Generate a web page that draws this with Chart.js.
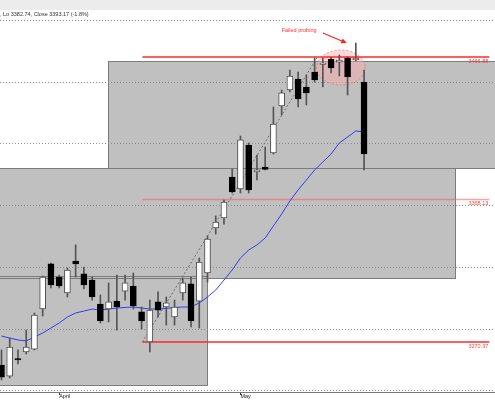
<!DOCTYPE html>
<html>
<head>
<meta charset="utf-8">
<script src="https://cdn.jsdelivr.net/npm/chart.js@4.4.1/dist/chart.umd.min.js"></script>
<style>
    html, body { margin: 0; padding: 0; background: #fff; }
    #toolbar { height: 10px; background: #ececec; }
    #wrap { position: relative; width: 495px; height: 390px; }
</style>
</head>
<body>
<div id="toolbar"></div>
<div id="wrap"><canvas id="mycanvas"></canvas></div>
<script>
var header = ', Lo 3382.74, Close 3393.17 (-1.8%)';

// daily candles
var opens = [3254.5, 3246.9, 3259.0, 3263.5, 3265.5, 3293.1, 3324.2, 3315.2, 3304.2, 3326.2,
             3317.3, 3313.1, 3296.6, 3293.1, 3298.6, 3305.5, 3309.0, 3291.1, 3270.4, 3298.0,
             3294.5, 3287.6, 3304.2, 3310.4, 3298.6, 3318.0, 3349.0, 3355.9, 3384.1, 3375.9,
             3406.2, 3387.6, 3391.0, 3400.7, 3433.1, 3444.1, 3451.7, 3446.2, 3456.5, 3461.7,
             3465.5, 3463.4, 3466.2, 3464.8, 3449.6];
var highs = [3264.9, 3273.1, 3264.9, 3278.6, 3290.4, 3315.9, 3324.8, 3316.6, 3321.4, 3337.3,
             3322.1, 3315.2, 3302.8, 3311.1, 3316.6, 3316.6, 3318.0, 3294.5, 3299.3, 3304.9,
             3301.4, 3299.3, 3314.5, 3315.2, 3328.3, 3343.5, 3357.3, 3368.3, 3389.7, 3412.4,
             3407.6, 3399.3, 3404.8, 3432.4, 3444.1, 3457.9, 3456.5, 3454.5, 3466.2, 3466.2,
             3466.9, 3468.3, 3466.9, 3476.5, 3457.9];
var lows = [3244.2, 3245.6, 3255.2, 3262.1, 3264.9, 3288.3, 3307.6, 3307.6, 3301.4, 3315.2,
            3306.9, 3299.3, 3283.5, 3284.2, 3278.6, 3299.3, 3293.1, 3279.3, 3263.5, 3287.6,
            3282.1, 3282.1, 3299.3, 3280.7, 3280.0, 3311.7, 3344.8, 3351.7, 3373.1, 3373.1,
            3373.1, 3382.1, 3389.0, 3400.0, 3426.9, 3442.8, 3432.4, 3433.8, 3449.6, 3446.2,
            3455.9, 3453.8, 3440.7, 3464.1, 3389.0];
var closes = [3246.2, 3266.9, 3258.0, 3266.9, 3289.0, 3315.2, 3309.7, 3309.0, 3320.0, 3324.2,
              3309.7, 3301.4, 3284.9, 3298.0, 3294.5, 3311.1, 3295.2, 3284.9, 3292.4, 3292.4,
              3297.3, 3294.5, 3311.1, 3284.9, 3325.5, 3341.4, 3353.1, 3366.9, 3373.8, 3409.7,
              3375.2, 3389.0, 3389.3, 3420.7, 3442.1, 3453.8, 3437.9, 3442.1, 3451.0, 3462.7,
              3459.3, 3464.8, 3453.1, 3466.2, 3400.0];
var ma = [3274.5, 3273.1, 3271.8, 3271.1, 3273.8, 3276.6, 3280.0, 3283.5, 3287.6, 3290.4,
          3291.7, 3293.1, 3292.4, 3293.1, 3293.8, 3294.2, 3294.5, 3293.8, 3293.1, 3293.1,
          3293.5, 3294.2, 3294.5, 3294.5, 3297.3, 3301.4, 3306.2, 3313.1, 3320.0, 3328.3,
          3333.8, 3337.3, 3342.1, 3350.4, 3358.6, 3367.6, 3375.2, 3382.1, 3389.0, 3394.5,
          3400.0, 3407.6, 3411.7, 3415.9, 3415.2];

var monthTicks = [7, 29];
var monthLabels = ['April', 'May'];
var gridPrices = [3492.39, 3449.64, 3407.58, 3364.83, 3322.08, 3279.33, 3237.27];

// horizontal levels
var levelPrices = [3466.88, 3368.63, 3270.37];
var levelLabels = ['3466.88', '3368.13', '3270.37'];
var levelFrom = 17.1, levelTo = 59.2;

// dotted trend line
var trendFrom = [17.1, 3270.37];
var trendTo = [38.3, 3466.5];

// gray zones: [fromBar, toBar, topPrice, bottomPrice]
var zones = [
    [12.92, 61, 3464.12, 3390.34],
    [-1, 55.04, 3390.34, 3314.5],
    [-1, 24.94, 3315.88, 3240.72]
];

var calloutText = 'Failed probing';
var calloutAt = [34.0, 3485.1];
var arrowFrom = [39.0, 3483.4];
var arrowTo = [41.9, 3476.5];
var probeCenter = [41.18, 3459.64];
var probeRadius = [2.94, 12.07];

var font = "'Liberation Sans', Arial, sans-serif";

var bodies = [], wicks = [], maPts = [], up = [];
for (var i in opens) {
    var n = Number(i);
    up.push(closes[n] >= opens[n]);
    bodies.push({ x: n, y: [opens[n], closes[n]] });
    wicks.push({ x: n, y: [lows[n], highs[n]] });
    maPts.push({ x: n, y: ma[n] });
}

function levelLine(p, color) {
    return {
        type: 'line',
        data: [{ x: levelFrom, y: p }, { x: levelTo, y: p }],
        borderColor: color,
        borderWidth: 1.6,
        pointRadius: 0,
        order: 4
    };
}

var drawings = {
    id: 'drawings',
    beforeDraw: function (chart) {
        var c = chart.ctx, xs = chart.scales.x, ys = chart.scales.y, a = chart.chartArea;
        c.save();
        c.beginPath();
        c.rect(a.left, a.top, a.right - a.left, a.bottom - a.top);
        c.clip();
        var r = zones.map(function (z) {
            var x0 = Math.round(xs.getPixelForValue(z[0])) + 0.5;
            var x1 = Math.round(xs.getPixelForValue(z[1])) + 0.5;
            var y0 = Math.round(ys.getPixelForValue(z[2])) + 0.5;
            var y1 = Math.round(ys.getPixelForValue(z[3])) + 0.5;
            return [x0, y0, x1 - x0, y1 - y0];
        });
        c.fillStyle = '#c0c0c0';
        r.forEach(function (b) { c.fillRect(b[0], b[1], b[2], b[3]); });
        c.strokeStyle = '#7c7c7c';
        c.lineWidth = 1;
        r.forEach(function (b) { c.strokeRect(b[0], b[1], b[2], b[3]); });
        c.restore();
    },
    beforeDatasetsDraw: function (chart) {
        var c = chart.ctx, xs = chart.scales.x, ys = chart.scales.y;
        var cx = xs.getPixelForValue(probeCenter[0]);
        var cy = ys.getPixelForValue(probeCenter[1]);
        var rx = xs.getPixelForValue(probeCenter[0] + probeRadius[0]) - cx;
        var ry = ys.getPixelForValue(probeCenter[1] - probeRadius[1]) - cy;
        c.save();
        c.beginPath();
        c.ellipse(cx, cy, rx, ry, 0, 0, Math.PI * 2);
        c.fillStyle = 'rgba(255,170,170,0.45)';
        c.fill();
        c.setLineDash([2, 2]);
        c.strokeStyle = 'rgba(240,90,90,0.6)';
        c.lineWidth = 1;
        c.stroke();
        c.restore();
    },
    afterDatasetsDraw: function (chart) {
        var c = chart.ctx, xs = chart.scales.x, ys = chart.scales.y;
        c.save();
        c.font = '5.5px ' + font;
        c.fillStyle = '#f04848';
        c.textAlign = 'right';
        c.textBaseline = 'top';
        levelPrices.forEach(function (p, k) {
            c.fillText(levelLabels[k], xs.getPixelForValue(levelTo) - 1, ys.getPixelForValue(p) + 1.5);
        });

        c.fillStyle = '#ff2a2a';
        c.textAlign = 'left';
        c.textBaseline = 'middle';
        c.fillText(calloutText, xs.getPixelForValue(calloutAt[0]), ys.getPixelForValue(calloutAt[1]));

        var x0 = xs.getPixelForValue(arrowFrom[0]), y0 = ys.getPixelForValue(arrowFrom[1]);
        var x1 = xs.getPixelForValue(arrowTo[0]), y1 = ys.getPixelForValue(arrowTo[1]);
        var ang = Math.atan2(y1 - y0, x1 - x0);
        c.strokeStyle = '#ff2020';
        c.lineWidth = 1.1;
        c.beginPath();
        c.moveTo(x0, y0);
        c.lineTo(x1 - 4 * Math.cos(ang), y1 - 4 * Math.sin(ang));
        c.stroke();
        c.beginPath();
        c.moveTo(x1, y1);
        c.lineTo(x1 - 6 * Math.cos(ang - 0.45), y1 - 6 * Math.sin(ang - 0.45));
        c.lineTo(x1 - 6 * Math.cos(ang + 0.45), y1 - 6 * Math.sin(ang + 0.45));
        c.closePath();
        c.fillStyle = '#ff2020';
        c.fill();
        c.restore();
    }
};

var ctx = document.getElementById('mycanvas');

var chart = new Chart(ctx, {
    type: 'bar',
    data: {
        datasets: [
            {
                label: 'Bodies',
                data: bodies,
                backgroundColor: up.map(function (u) { return u ? '#ffffff' : '#000000'; }),
                borderColor: up.map(function (u) { return u ? '#505050' : '#000000'; }),
                borderWidth: 1,
                borderSkipped: false,
                grouped: false,
                barPercentage: 1,
                categoryPercentage: 1,
                maxBarThickness: 6,
                order: 0
            },
            {
                label: 'Wicks',
                data: wicks,
                backgroundColor: '#555555',
                borderWidth: 0,
                grouped: false,
                barPercentage: 1,
                categoryPercentage: 1,
                maxBarThickness: 1,
                order: 1
            },
            {
                type: 'line',
                label: 'MA',
                data: maPts,
                borderColor: '#3a3af2',
                borderWidth: 1,
                pointRadius: 0,
                tension: 0,
                order: 2
            },
            {
                type: 'line',
                label: 'Trend',
                data: [{ x: trendFrom[0], y: trendFrom[1] }, { x: trendTo[0], y: trendTo[1] }],
                borderColor: '#6e6e6e',
                borderWidth: 1,
                borderDash: [2, 2],
                pointRadius: 0,
                order: 3
            },
            levelLine(levelPrices[0], '#ff2a2a'),
            levelLine(levelPrices[1], 'rgba(255,90,90,0.55)'),
            levelLine(levelPrices[2], '#ff2a2a')
        ]
    },
    options: {
        responsive: true,
        maintainAspectRatio: false,
        animation: false,
        layout: { padding: 0 },
        plugins: {
            legend: { display: false },
            tooltip: { enabled: false },
            title: {
                display: true,
                text: header,
                align: 'start',
                color: '#333333',
                font: { size: 5.5, family: font, weight: 'normal', lineHeight: 1.2 },
                padding: { top: 1.4, bottom: 0 }
            }
        },
        scales: {
            x: {
                type: 'linear',
                min: -0.18,
                max: 59.89,
                offset: false,
                afterBuildTicks: function (s) {
                    s.ticks = monthTicks.map(function (v) { return { value: v }; });
                },
                afterFit: function (s) { s.height = 8; },
                grid: { offset: false, drawOnChartArea: false, drawTicks: true, tickLength: 3, tickColor: '#333333' },
                border: { display: true, color: '#777777', width: 1 },
                ticks: {
                    align: 'start',
                    padding: -2,
                    autoSkip: false,
                    maxRotation: 0,
                    color: '#222222',
                    font: { size: 5.5, family: font },
                    callback: function (v, idx) { return monthLabels[idx]; }
                }
            },
            y: {
                type: 'linear',
                position: 'right',
                min: 3235.9,
                max: 3493.77,
                afterBuildTicks: function (s) {
                    s.ticks = gridPrices.map(function (v) { return { value: v }; });
                },
                afterFit: function (s) { s.width = 0; },
                ticks: { display: false },
                grid: { color: '#8c8c8c', lineWidth: 1, drawTicks: false },
                border: { display: false, dash: [1, 2] }
            }
        }
    },
    plugins: [drawings]
});
</script>
</body>
</html>
